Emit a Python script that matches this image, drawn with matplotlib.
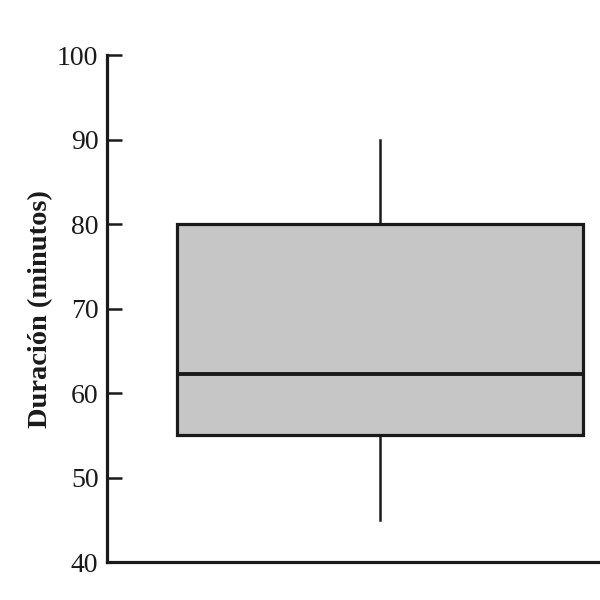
import matplotlib
matplotlib.use("Agg")
import matplotlib.pyplot as plt

# Data
whisker_low = 45
q1 = 55
median = 62.3
q3 = 80
whisker_high = 90
y_ticks = [40, 50, 60, 70, 80, 90, 100]
y_label = "Duración (minutos)"

plt.rcParams['font.family'] = ['Liberation Serif', 'DejaVu Serif']

fig = plt.figure(figsize=(6, 6), dpi=100)
ax = fig.add_axes([0.178, 0.063, 0.822, 0.845])

stats = [{
    'whislo': whisker_low, 'q1': q1, 'med': median, 'q3': q3,
    'whishi': whisker_high, 'fliers': [], 'label': ''
}]
ax.bxp(stats, positions=[1], widths=0.824, patch_artist=True, showcaps=False,
       boxprops=dict(facecolor='#c6c6c6', edgecolor='#1a1a1a', linewidth=2.3),
       medianprops=dict(color='#1a1a1a', linewidth=2.8),
       whiskerprops=dict(color='#1a1a1a', linewidth=1.8))

ax.set_xlim(0.446, 1.446)
ax.set_ylim(40, 100)
ax.set_yticks(y_ticks)
ax.set_xticks([])
for s in ['top', 'right']:
    ax.spines[s].set_visible(False)
for s in ['left', 'bottom']:
    ax.spines[s].set_linewidth(2.3)
    ax.spines[s].set_color('#1a1a1a')
ax.tick_params(axis='y', direction='in', length=11, width=1.8, pad=6,
               labelsize=20, colors='#1a1a1a')
ax.set_ylabel(y_label, fontsize=20.5, fontweight='bold', color='#1a1a1a', labelpad=3)

fig.savefig("out.png", dpi=100)
